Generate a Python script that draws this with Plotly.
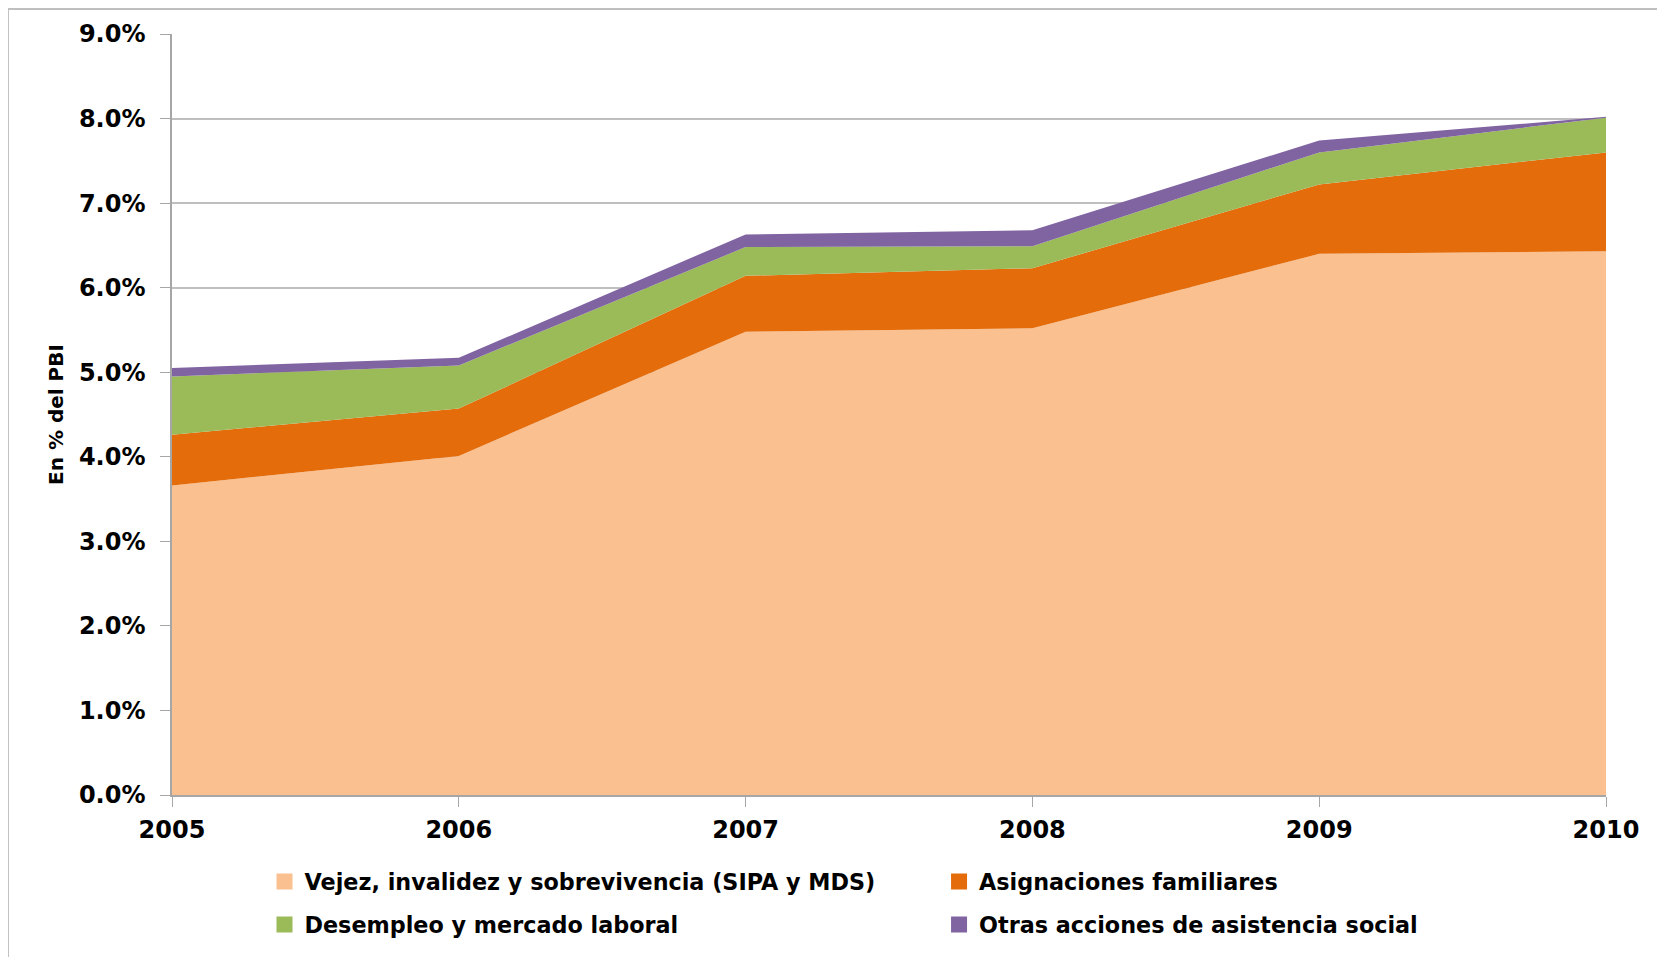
import plotly.graph_objects as go

years = [2005, 2006, 2007, 2008, 2009, 2010]
vejez = [3.66, 4.01, 5.48, 5.52, 6.40, 6.43]
asignaciones = [0.60, 0.56, 0.66, 0.71, 0.82, 1.17]
desempleo = [0.69, 0.51, 0.34, 0.26, 0.38, 0.41]
otras = [0.10, 0.09, 0.15, 0.19, 0.14, 0.01]

names = [
    "Vejez, invalidez y sobrevivencia (SIPA y MDS)",
    "Asignaciones familiares",
    "Desempleo y mercado laboral",
    "Otras acciones de asistencia social",
]
colors = ["#FAC090", "#E46C0A", "#9BBB59", "#8064A2"]
series = [vejez, asignaciones, desempleo, otras]
legend_of = ["legend", "legend2", "legend", "legend2"]

TICK_FONT = dict(family="DejaVu Sans", size=24, color="#000000", weight="bold")
LEG_FONT = dict(family="DejaVu Sans", size=22.3, color="#000000", weight="bold")
TITLE_FONT = dict(family="DejaVu Sans", size=20, color="#000000", weight="bold")

fig = go.Figure()
for name, vals, col in zip(names, series, colors):
    fig.add_trace(go.Scatter(
        x=years, y=vals, name=name, mode="lines", stackgroup="one",
        line=dict(width=0, color=col), fillcolor=col, showlegend=False,
        hoverinfo="x+y+name",
    ))

for i, (name, col, lg) in enumerate(zip(names, colors, legend_of)):
    fig.add_trace(go.Scatter(
        x=[None], y=[None], name=name, mode="markers",
        marker=dict(symbol="square", size=16, color=col),
        legend=lg, legendgroup=f"g{i}", showlegend=True,
    ))

# page body adds an 8px offset, so the figure is sized/margined accordingly
fig.update_layout(
    width=1657, height=949,
    paper_bgcolor="white", plot_bgcolor="white",
    margin=dict(l=164, r=59, t=26, b=160),
    xaxis=dict(
        range=[2005, 2010], tickmode="array", tickvals=years,
        ticktext=[str(y) for y in years],
        showgrid=False, zeroline=False,
        showline=True, linecolor="#A6A6A6", linewidth=1.5,
        ticks="outside", ticklen=10, tickcolor="#A6A6A6",
        tickfont=TICK_FONT, ticklabelstandoff=2,
    ),
    yaxis=dict(
        range=[0, 9], dtick=1, tickformat=".1f", ticksuffix="%",
        showgrid=True, gridcolor="#BFBFBF", gridwidth=1.5, zeroline=False,
        showline=True, linecolor="#A6A6A6", linewidth=1.5,
        ticks="outside", ticklen=10, tickcolor="#A6A6A6",
        tickfont=TICK_FONT, ticklabelstandoff=10,
        title=dict(text="En % del PBI", font=TITLE_FONT, standoff=10),
    ),
    legend=dict(
        x=0.0645, y=-0.086, xanchor="left", yanchor="top",
        orientation="v", font=LEG_FONT, traceorder="grouped",
        tracegroupgap=11, bgcolor="rgba(0,0,0,0)",
    ),
    legend2=dict(
        x=0.5349, y=-0.086, xanchor="left", yanchor="top",
        orientation="v", font=LEG_FONT, traceorder="grouped",
        tracegroupgap=11, bgcolor="rgba(0,0,0,0)",
    ),
    shapes=[dict(
        type="rect", xref="paper", yref="paper",
        x0=-0.1144, x1=1.0398, y0=-0.3, y1=1.0328,
        line=dict(color="#BFBFBF", width=2), fillcolor="rgba(0,0,0,0)",
        layer="below",
    )],
)

fig.write_html("out.html")
